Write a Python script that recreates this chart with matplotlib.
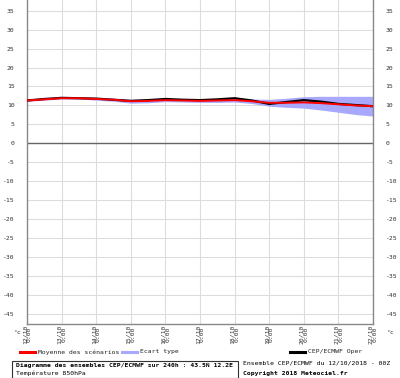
import matplotlib
matplotlib.use("Agg")
import matplotlib.pyplot as plt
from matplotlib.lines import Line2D
from matplotlib.patches import Rectangle

# forecast hours, 12h steps over 240h
HOURS = [0, 12, 24, 36, 48, 60, 72, 84, 96, 108, 120, 132, 144, 156, 168, 180, 192, 204, 216, 228, 240]
MEAN = [11.3, 11.6, 11.9, 11.9, 11.7, 11.5, 11.1, 11.2, 11.4, 11.3, 11.2, 11.3, 11.4, 11.1, 10.7, 10.7,
        10.8, 10.6, 10.3, 10.0, 9.8]
OPER = [11.3, 11.7, 12.0, 11.9, 11.8, 11.5, 11.2, 11.4, 11.7, 11.5, 11.4, 11.6, 11.9, 11.3, 10.4, 10.9,
        11.4, 11.0, 10.4, 10.1, 9.8]
SPREAD = [0.2, 0.2, 0.2, 0.2, 0.3, 0.4, 0.5, 0.5, 0.4, 0.4, 0.4, 0.5, 0.5, 0.6, 0.9, 1.2,
          1.5, 1.8, 2.1, 2.4, 2.6]
DAY_LABELS = ["12/10", "13/10", "14/10", "15/10", "16/10", "17/10", "18/10", "19/10", "20/10", "21/10", "22/10"]
Y_TICKS = list(range(-45, 40, 5))

MONO = "DejaVu Sans Mono"
FS = 4.6

fig = plt.figure(figsize=(4.0, 3.78), dpi=100)
ax = fig.add_axes([27 / 400, 1 - 323.5 / 378, 346 / 400, 323.5 / 378])

lower = [m - s for m, s in zip(MEAN, SPREAD)]
upper = [m + s for m, s in zip(MEAN, SPREAD)]
ax.fill_between(HOURS, lower, upper, color="#a8a8ff", lw=0, zorder=2)
ax.plot(HOURS, OPER, color="black", lw=1.6, zorder=3)
ax.plot(HOURS, MEAN, color="#ff0000", lw=1.4, zorder=4)
ax.axhline(0, color="#666666", lw=1.0, zorder=1)

ax.set_xlim(0, 240)
ax.set_ylim(-47.5, 37.8)
ax.set_yticks(Y_TICKS)
ax.set_yticklabels([str(v) for v in Y_TICKS], family=MONO, fontsize=FS, color="#333333")
ax.set_xticks([24 * i for i in range(len(DAY_LABELS))])
ax.set_xticklabels([d + "\n0:00" for d in DAY_LABELS], rotation=90, family=MONO, fontsize=FS,
                   color="#333333", linespacing=0.9)
ax.tick_params(axis="y", length=0, pad=9, labelright=True)
ax.tick_params(axis="x", length=0, pad=1)
ax.grid(color="#dddddd", lw=0.8, zorder=0)
ax.set_axisbelow(True)
for side in ["left", "right", "bottom"]:
    ax.spines[side].set_color("#888888")
    ax.spines[side].set_linewidth(1.0)
ax.spines["top"].set_visible(False)

fig.text(13 / 400, 1 - 333 / 378, "°c", family=MONO, fontsize=FS, color="#333333", va="center")
fig.text(386 / 400, 1 - 333 / 378, "°c", family=MONO, fontsize=FS, color="#333333", va="center")

# legend row
ly = 1 - 352 / 378
for x0, col, label in [(20, "#ff0000", "Moyenne des scénarios"), (122, "#a8a8ff", "Ecart type"),
                       (290, "black", "CEP/ECMWF Oper")]:
    fig.add_artist(Line2D([x0 / 400, (x0 + 15) / 400], [ly, ly], color=col, lw=2.2))
    fig.text((x0 + 18) / 400, ly, label, family=MONO, fontsize=FS, color="#222222", va="center")

# title box
fig.add_artist(Rectangle((12 / 400, 0), 226 / 400, 17 / 378, fill=False, ec="#333333", lw=0.8,
                         transform=fig.transFigure))
fig.text(16 / 400, 1 - 365 / 378, "Diagramme des ensembles CEP/ECMWF sur 240h : 43.5N 12.2E",
         family=MONO, fontsize=FS, weight="bold", va="center")
fig.text(16 / 400, 1 - 373.5 / 378, "Température 850hPa", family=MONO, fontsize=FS, va="center")
fig.text(243 / 400, 1 - 363 / 378, "Ensemble CEP/ECMWF du 12/10/2018 - 00Z", family=MONO,
         fontsize=FS, va="center")
fig.text(243 / 400, 1 - 374 / 378, "Copyright 2018 Meteociel.fr", family=MONO, fontsize=FS,
         weight="bold", va="center")

fig.savefig("out.png", dpi=100)
